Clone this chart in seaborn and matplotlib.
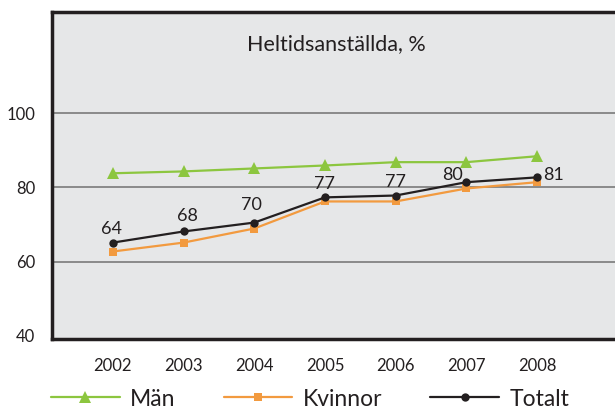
import matplotlib
matplotlib.use('Agg')
import matplotlib.pyplot as plt
import pandas as pd
import seaborn as sns

# data
years = ['2002', '2003', '2004', '2005', '2006', '2007', '2008']
man = [83.8, 84.3, 85.1, 85.9, 86.8, 86.8, 88.4]
kvinnor = [62.7, 65.1, 68.9, 76.2, 76.2, 79.7, 81.4]
totalt = [65.1, 68.1, 70.5, 77.3, 77.8, 81.4, 82.7]
totalt_labels = ['64', '68', '70', '77', '77', '80', '81']
series_names = ['Män', 'Kvinnor', 'Totalt']
title = 'Heltidsanställda, %'
y_ticks = [40, 60, 80, 100]

colors = {'Män': '#8cc63f', 'Kvinnor': '#f29a3f', 'Totalt': '#231f20'}
markers = {'Män': '^', 'Kvinnor': 's', 'Totalt': 'o'}
msizes = {'Män': 8, 'Kvinnor': 5.5, 'Totalt': 6}

df = pd.DataFrame({'year': years * 3,
                   'value': man + kvinnor + totalt,
                   'serie': [s for s in series_names for _ in years]})

sns.set_style('white')
plt.rcParams['font.family'] = ['Lato', 'DejaVu Sans']

fig = plt.figure(figsize=(6.15, 4.12), dpi=100)
ax = fig.add_axes([52 / 615, 1 - 339 / 412, 570 / 615, 327 / 412])
ax.set_facecolor('#e6e7e8')

for s in series_names:
    sub = df[df.serie == s]
    sns.lineplot(data=sub, x='year', y='value', ax=ax, color=colors[s],
                 marker=markers[s], markersize=msizes[s], markeredgewidth=0,
                 linewidth=2.4, label=s, sort=False)

# value labels next to the total line (offsets in points)
offsets = [(-1, 10), (3, 11.5), (-2, 13), (0, 9.5), (0, 10), (-10, 5), (11.5, 1.5)]
for i, (lab, v) in enumerate(zip(totalt_labels, totalt)):
    ax.annotate(lab, (i, v), textcoords='offset points', xytext=offsets[i],
                ha='center', va='center', fontsize=13, color='#231f20')

ax.set_ylim(39.1, 127.3)
ax.set_xlim(-0.86, 7.2)
ax.set_yticks(y_ticks)
ax.set_xticks(range(len(years)))
ax.set_xticklabels(years)
for y in [60, 80, 100]:
    ax.axhline(y, color='#7a7a7a', linewidth=1.2, zorder=0.5)
ax.tick_params(axis='both', length=0, labelsize=12, colors='#231f20')
ax.tick_params(axis='x', pad=14)
ax.tick_params(axis='y', pad=12)
ax.set_xlabel('')
ax.set_ylabel('')
for side in ['left', 'bottom', 'top', 'right']:
    ax.spines[side].set_visible(True)
    ax.spines[side].set_color('#231f20')
    ax.spines[side].set_linewidth(2.5)

fig.text(336 / 615, 1 - 44 / 412, title, ha='center', va='center',
         fontsize=15.5, color='#231f20')

handles, labels = ax.get_legend_handles_labels()
ax.get_legend().remove()
for h in handles:
    h.set_linewidth(1.6)
leg = fig.legend(handles, labels, loc='center left', ncol=3,
                 bbox_to_anchor=(51 / 615, 1 - 399 / 412), frameon=False,
                 fontsize=16.5, borderpad=0, borderaxespad=0,
                 handlelength=3.0, columnspacing=2.1, handletextpad=0.45)
for t in leg.get_texts():
    t.set_color('#231f20')

fig.savefig('out.png', dpi=100)
